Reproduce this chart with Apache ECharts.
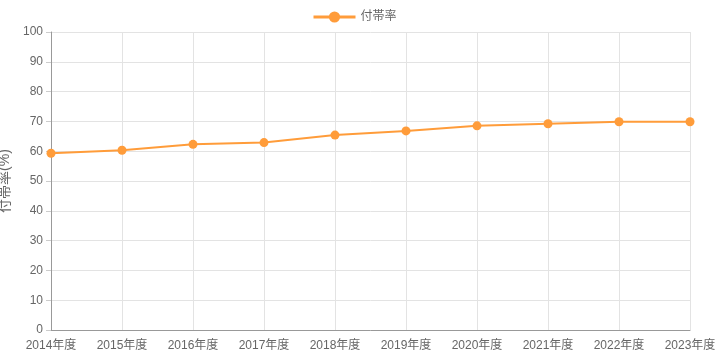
<!DOCTYPE html>
<html><head><meta charset="utf-8">
<script src="https://cdn.jsdelivr.net/npm/echarts@6/dist/echarts.min.js"></script>
<style>html,body{margin:0;padding:0;background:#fff}#c{width:718px;height:359px}</style>
</head><body><div id="c"></div>
<script>
const categories = ['2014年度','2015年度','2016年度','2017年度','2018年度','2019年度','2020年度','2021年度','2022年度','2023年度'];
const rates = [59.3, 60.3, 62.3, 62.9, 65.4, 66.8, 68.5, 69.2, 69.9, 69.9];
const seriesName = '付帯率';
const yAxisName = '付帯率(%)';

const chart = echarts.init(document.getElementById('c'), null, {renderer:'canvas'});
const font = '"Liberation Sans", "Noto Sans CJK JP", sans-serif';
chart.setOption({
  animation:false,
  textStyle:{fontFamily:font},
  legend:{top:6, left:307, itemWidth:42, itemHeight:14, itemGap:10,
    lineStyle:{width:3},
    textStyle:{color:'#666', fontSize:12, fontFamily:font}, data:[seriesName]},
  grid:{left:51, right:28, top:32, bottom:29, containLabel:false, outerBoundsMode:'none'},
  xAxis:{type:'category', data:categories, boundaryGap:false,
    axisLine:{lineStyle:{color:'#999'}}, axisTick:{show:false},
    axisLabel:{color:'#666', fontSize:12, margin:10, fontFamily:font},
    splitLine:{show:true, lineStyle:{color:'#e3e3e3'}}},
  yAxis:{type:'value', min:0, max:100, interval:10,
    name:yAxisName, nameLocation:'middle', nameGap:37, nameRotate:90,
    nameTextStyle:{color:'#666', fontSize:14, fontFamily:font},
    axisLine:{show:true, lineStyle:{color:'#999'}}, axisTick:{show:true, length:5, lineStyle:{color:'#ccc'}},
    axisLabel:{color:'#666', fontSize:12, margin:8, fontFamily:font},
    splitLine:{show:true, lineStyle:{color:'#e3e3e3'}}},
  series:[{name:seriesName, type:'line', data:rates, symbol:'circle', symbolSize:9,
    itemStyle:{color:'#ff9c3a'}, lineStyle:{width:2, color:'#ff9c3a'}}]
});
</script></body></html>
